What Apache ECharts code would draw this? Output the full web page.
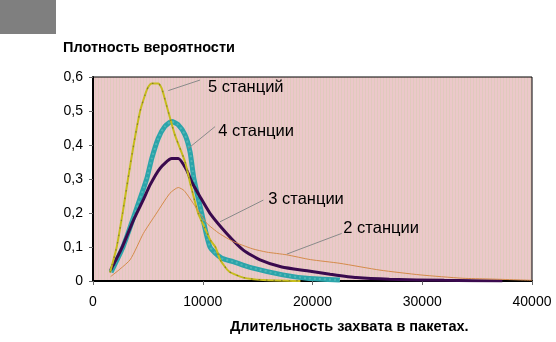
<!DOCTYPE html>
<html>
<head>
<meta charset="utf-8">
<script src="https://cdn.jsdelivr.net/npm/echarts@6/dist/echarts.min.js"></script>
<style>
  html, body { margin: 0; padding: 0; background: #fff; }
  #chart { width: 556px; height: 342px; }
</style>
</head>
<body>
<div id="chart"></div>
<script>
// Distribution of capture duration (in packets) for 2..5 stations
const xTicks = [0, 10000, 20000, 30000, 40000];
const yTicks = [0, 0.1, 0.2, 0.3, 0.4, 0.5, 0.6];

const st5 = [[1550,0.025],[2160,0.1],[2700,0.2],[3190,0.3],[3700,0.4],[4280,0.498],[4740,0.547],[5040,0.571],[5350,0.581],[5950,0.581],[6260,0.567],[6860,0.498],[7470,0.429],[8380,0.351],[8840,0.29],[9570,0.2],[10200,0.155],[10700,0.12],[11150,0.1],[11600,0.062],[12400,0.028],[13700,0.01],[15500,0.003],[18900,0]];
const st4 = [[1640,0.026],[2730,0.1],[3830,0.2],[4890,0.3],[5350,0.36],[5950,0.42],[6560,0.455],[7170,0.469],[7740,0.46],[8380,0.43],[8840,0.38],[9200,0.3],[9900,0.2],[10660,0.1],[11720,0.067],[12760,0.057],[14300,0.04],[17300,0.018],[19500,0.008],[22500,0.003]];
const st3 = [[1610,0.032],[2600,0.095],[3700,0.18],[4600,0.24],[5190,0.282],[6100,0.331],[7170,0.36],[7770,0.36],[8540,0.326],[8990,0.292],[9750,0.248],[10660,0.199],[12180,0.14],[13700,0.091],[15220,0.062],[17200,0.041],[19500,0.03],[21600,0.02],[24000,0.01],[27000,0.005],[32000,0.002],[37300,0]];
const st2 = [[1610,0.013],[3370,0.062],[4590,0.14],[5800,0.2],[7010,0.258],[7770,0.275],[8300,0.266],[9140,0.228],[10360,0.17],[11500,0.14],[12790,0.116],[14500,0.095],[15820,0.085],[17650,0.077],[19800,0.063],[22500,0.052],[26150,0.032],[29800,0.018],[33700,0.008],[36000,0.006],[40000,0.002]];

const seriesNames = ['5 станций', '4 станции', '3 станции', '2 станции'];
// leader line: [from point, to point], label anchor
const leaders = [
  [[6860,0.560],[9750,0.591],[10480,0.570]],
  [[8680,0.390],[11120,0.454],[11420,0.441]],
  [[11570,0.174],[15520,0.238],[15970,0.241]],
  [[17650,0.079],[22660,0.140],[22810,0.156]]
];

const yTitle = 'Плотность вероятности';
const xTitle = 'Длительность захвата в пакетах.';

// striped plot background
const tile = document.createElement('canvas');
tile.width = 3; tile.height = 4;
const tctx = tile.getContext('2d');
tctx.fillStyle = '#ECC8CA'; tctx.fillRect(0, 0, 3, 4);
tctx.fillStyle = '#E0CABD'; tctx.fillRect(2, 0, 1, 4);

const FONT = '"Liberation Sans", Arial, sans-serif';

function leaderMarks(i) {
  const l = leaders[i];
  return {
    markLine: {
      silent: true, symbol: 'none', animation: false,
      lineStyle: { color: '#8a8a8a', width: 1, type: 'solid' },
      label: { show: false },
      data: [[{ coord: l[0] }, { coord: l[1] }]]
    },
    markPoint: {
      silent: true, symbol: 'circle', symbolSize: 0, animation: false,
      label: {
        show: true, position: 'right', distance: 0,
        formatter: seriesNames[i], color: '#000', fontSize: 16.5, fontFamily: FONT
      },
      data: [{ coord: l[2] }]
    }
  };
}

const chart = echarts.init(document.getElementById('chart'), null, { renderer: 'canvas' });
chart.setOption({
  animation: false,
  backgroundColor: '#fff',
  grid: {
    left: 93, right: 24, top: 77, bottom: 61, show: true,
    backgroundColor: { image: tile, repeat: 'repeat' },
    borderColor: '#000', borderWidth: 1
  },
  xAxis: {
    type: 'value', min: 0, max: 40000, interval: 10000,
    axisLine: { show: true, onZero: false, lineStyle: { color: '#000', width: 2 } },
    axisTick: { show: true, length: 4, lineStyle: { color: '#666' } },
    splitLine: { show: false },
    axisLabel: {
      margin: 14, color: '#000', fontSize: 14, fontFamily: FONT,
      formatter: v => xTicks.includes(v) ? String(v) : ''
    }
  },
  yAxis: {
    type: 'value', min: 0, max: 0.6, interval: 0.1,
    axisLine: { show: true, lineStyle: { color: '#000', width: 2 } },
    axisTick: { show: true, length: 4, lineStyle: { color: '#666' } },
    splitLine: { show: false },
    axisLabel: {
      margin: 10, color: '#000', fontSize: 14, fontFamily: FONT,
      formatter: v => {
        const t = yTicks.find(k => Math.abs(k - v) < 1e-6);
        return t === undefined ? '' : (t === 0 ? '0' : t.toFixed(1).replace('.', ','));
      }
    }
  },
  graphic: [
    { type: 'rect', left: 0, top: 0, shape: { width: 56, height: 34 }, style: { fill: '#7f7f7f' } },
    { type: 'text', left: 63, top: 40, style: { text: yTitle, fill: '#000', font: 'bold 14.5px ' + FONT } },
    { type: 'text', left: 230, top: 319, style: { text: xTitle, fill: '#000', font: 'bold 14.5px ' + FONT } }
  ],
  series: [
    Object.assign({
      name: seriesNames[1], type: 'line', data: st4, smooth: 0.2, showSymbol: false, z: 2,
      lineStyle: { color: '#2BA4AA', width: 5 }
    }, leaderMarks(1)),
    {
      type: 'line', data: st4, smooth: 0.2, showSymbol: false, z: 3,
      lineStyle: { color: '#7FCCC6', width: 2, type: [2, 3], opacity: 0.45 }
    },
    Object.assign({
      name: seriesNames[2], type: 'line', data: st3, smooth: 0.2, showSymbol: false, z: 4,
      lineStyle: { color: '#3A0A4E', width: 3 }
    }, leaderMarks(2)),
    Object.assign({
      name: seriesNames[0], type: 'line', data: st5, smooth: 0.2, showSymbol: false, z: 5,
      lineStyle: { color: '#C6BC1C', width: 2 }
    }, leaderMarks(0)),
    {
      type: 'line', data: st5, smooth: 0.2, showSymbol: false, z: 6,
      lineStyle: { color: '#333', width: 1.2, type: [1.5, 6], opacity: 0.45 }
    },
    Object.assign({
      name: seriesNames[3], type: 'line', data: st2, smooth: 0.2, showSymbol: false, z: 7,
      lineStyle: { color: '#D48A4A', width: 1 }
    }, leaderMarks(3))
  ]
});
</script>
</body>
</html>
